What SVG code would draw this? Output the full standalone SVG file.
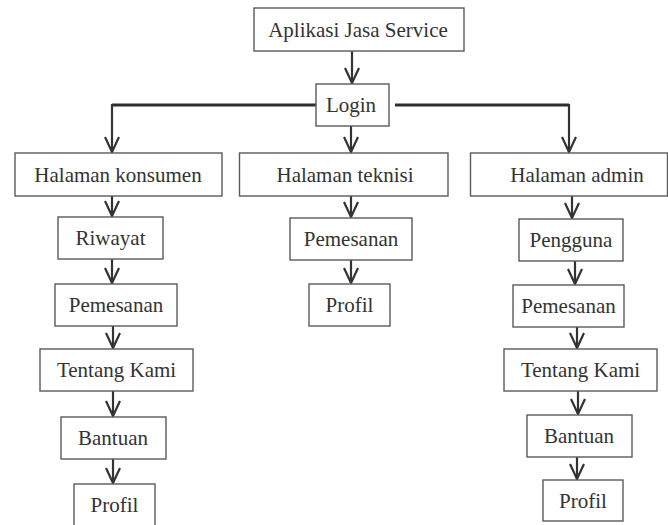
<svg xmlns="http://www.w3.org/2000/svg" width="668" height="525" viewBox="0 0 668 525">
  <style>
    .box { fill: #ffffff; stroke: #5a5a5a; stroke-width: 1.4; }
    .lbl { font-family: 'Liberation Serif', 'Times New Roman', Times, serif; font-size: 21px; fill: #333333; text-anchor: middle; }
    .link { fill: none; stroke: #333333; stroke-width: 2.2; marker-end: url(#head); }
    .trunk { fill: none; stroke: #2e2e2e; stroke-width: 3.2; }
  </style>
  <defs>
    <!-- open V arrowhead, tip at the end of the line -->
    <marker id="head" markerUnits="userSpaceOnUse" viewBox="-16 -9 18 18" refX="0" refY="0" markerWidth="18" markerHeight="18" orient="auto">
      <path d="M-15,-7 L0,0 L-15,7" fill="none" stroke="#333333" stroke-width="2.2" stroke-linejoin="miter"/>
    </marker>
  </defs>
  <rect width="668" height="525" fill="#ffffff"/>

  <!-- connectors -->
  <g id="connectors">
    <path class="link" d="M352,51 V83"/>
    <path class="trunk" d="M316,105 H112"/>
    <path class="trunk" d="M395,105 H569"/>
    <path class="link" d="M112,104 V152"/>
    <path class="link" d="M569,104 V152"/>
    <path class="link" d="M351,126 V152"/>
    <!-- Halaman konsumen column -->
    <path class="link" d="M112,196 V216"/>
    <path class="link" d="M112,259 V283"/>
    <path class="link" d="M113,326 V348"/>
    <path class="link" d="M113,391 V416"/>
    <path class="link" d="M113,459 V483"/>
    <!-- Halaman teknisi column -->
    <path class="link" d="M351,196 V217"/>
    <path class="link" d="M351,260 V283"/>
    <!-- Halaman admin column -->
    <path class="link" d="M572,196 V218"/>
    <path class="link" d="M575,261 V284"/>
    <path class="link" d="M577,327 V348"/>
    <path class="link" d="M578,391 V414"/>
    <path class="link" d="M577,457 V479"/>
  </g>

  <g font-family="Liberation Serif, Times New Roman, serif">
  <g id="aplikasi">
    <rect class="box" x="254" y="8" width="210" height="43"/>
    <text class="lbl" x="358" y="36.5">Aplikasi Jasa Service</text>
  </g>
  <g id="login">
    <rect class="box" x="316" y="84" width="73" height="42"/>
    <text class="lbl" x="351" y="112">Login</text>
  </g>

  <g id="halaman-konsumen">
    <rect class="box" x="15" y="153" width="207" height="43"/>
    <text class="lbl" x="118" y="181.5">Halaman konsumen</text>
  </g>
  <g id="halaman-teknisi">
    <rect class="box" x="239.5" y="153" width="208.5" height="43"/>
    <text class="lbl" x="345" y="181.5">Halaman teknisi</text>
  </g>
  <g id="halaman-admin">
    <rect class="box" x="470.5" y="153" width="197" height="43"/>
    <text class="lbl" x="577" y="181.5">Halaman admin</text>
  </g>

  <g id="konsumen-riwayat">
    <rect class="box" x="58" y="217" width="105" height="42"/>
    <text class="lbl" x="110.5" y="245">Riwayat</text>
  </g>
  <g id="konsumen-pemesanan">
    <rect class="box" x="55" y="284" width="122" height="42"/>
    <text class="lbl" x="116" y="312">Pemesanan</text>
  </g>
  <g id="konsumen-tentang">
    <rect class="box" x="40" y="349" width="153" height="42"/>
    <text class="lbl" x="116.5" y="377">Tentang Kami</text>
  </g>
  <g id="konsumen-bantuan">
    <rect class="box" x="61" y="417" width="105" height="42"/>
    <text class="lbl" x="113" y="445">Bantuan</text>
  </g>
  <g id="konsumen-profil">
    <rect class="box" x="74" y="484" width="81" height="42"/>
    <text class="lbl" x="114.5" y="511.5">Profil</text>
  </g>

  <g id="teknisi-pemesanan">
    <rect class="box" x="290" y="218" width="122" height="42"/>
    <text class="lbl" x="351" y="246">Pemesanan</text>
  </g>
  <g id="teknisi-profil">
    <rect class="box" x="309" y="284" width="81" height="42"/>
    <text class="lbl" x="349.5" y="312">Profil</text>
  </g>

  <g id="admin-pengguna">
    <rect class="box" x="519" y="219" width="104" height="42"/>
    <text class="lbl" x="571" y="247">Pengguna</text>
  </g>
  <g id="admin-pemesanan">
    <rect class="box" x="513" y="285" width="111" height="42"/>
    <text class="lbl" x="568.5" y="313">Pemesanan</text>
  </g>
  <g id="admin-tentang">
    <rect class="box" x="504" y="349" width="153" height="42"/>
    <text class="lbl" x="580.5" y="377">Tentang Kami</text>
  </g>
  <g id="admin-bantuan">
    <rect class="box" x="527" y="415" width="105" height="42"/>
    <text class="lbl" x="579" y="443">Bantuan</text>
  </g>
  <g id="admin-profil">
    <rect class="box" x="543" y="480" width="80" height="41"/>
    <text class="lbl" x="583" y="507.5">Profil</text>
  </g>
  </g>
</svg>
